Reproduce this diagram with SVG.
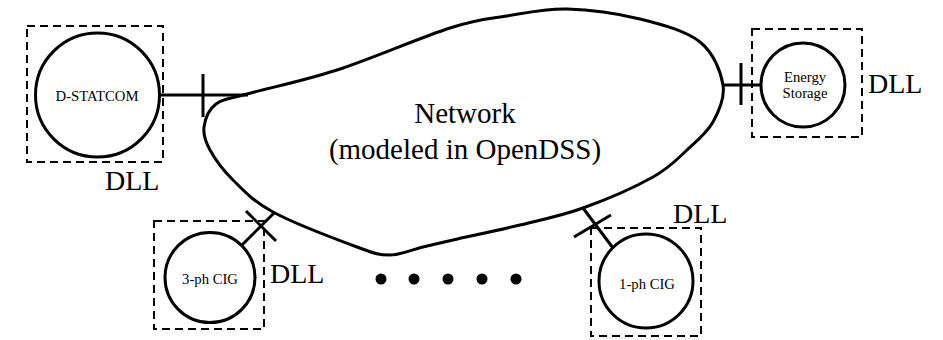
<svg xmlns="http://www.w3.org/2000/svg" width="943" height="340" viewBox="0 0 943 340">
<style>
.box{fill:none;stroke:#000;stroke-width:2;stroke-dasharray:8,5}
.cir{fill:#fff;stroke:#000;stroke-width:3}
.ln{fill:none;stroke:#000;stroke-width:3}
text{fill:#000}
.sm{font-size:14.7px;text-anchor:middle}
.dll{font-size:28px}
.big{font-size:29px;text-anchor:middle}
</style>
<rect width="943" height="340" fill="#fff"/>
<g id="connectors">
<line class="ln" x1="159" y1="95" x2="248" y2="95"/>
<line class="ln" x1="203" y1="74" x2="203" y2="117"/>
<line class="ln" x1="722" y1="85" x2="762" y2="85"/>
<line class="ln" x1="741" y1="63" x2="741" y2="105"/>
<line class="ln" x1="242" y1="245" x2="275" y2="212"/>
<line class="ln" x1="246" y1="211" x2="276" y2="241"/>
<line class="ln" x1="583" y1="208" x2="613" y2="248"/>
<line class="ln" x1="574" y1="237" x2="611" y2="215"/>
</g>
<g font-family="Liberation Serif, Times New Roman, serif">
<g id="network">
<path class="ln" d="M204,127 C205,119.3 208.8,109.5 216,104 C223.2,98.5 226.8,99.7 247,94 C267.2,88.3 303.2,81 337,70 C370.8,59 421.7,37 450,28 C478.3,19 487.5,19.2 507,16 C526.5,12.8 544.8,8.5 567,9 C589.2,9.5 617.8,13.5 640,19 C662.2,24.5 686.2,31 700,42 C713.8,53 720.8,71.7 723,85 C725.2,98.3 719,111.2 713,122 C707,132.8 697,140.8 687,150 C677,159.2 670.3,167.3 653,177 C635.7,186.7 605.2,200 583,208 C560.8,216 541.7,219.7 520,225 C498.3,230.3 469.2,236.3 453,240 C436.8,243.7 433.5,244.5 423,247 C412.5,249.5 401,255 390,255 C379,255 376.5,254.2 357,247 C337.5,239.8 293.7,223.2 273,212 C252.3,200.8 243.5,190.3 233,180 C222.5,169.7 214.8,158.8 210,150 C205.2,141.2 203,134.7 204,127 Z"/>
<text class="big" x="465" y="123">Network</text>
<text class="big" x="465" y="159">(modeled in OpenDSS)</text>
</g>
<g id="dstatcom">
<rect class="box" x="27" y="26" width="136" height="136"/>
<circle class="cir" cx="97.5" cy="95" r="62"/>
<text class="sm" x="97" y="100.5">D-STATCOM</text>
<text class="dll" x="105" y="190">DLL</text>
</g>
<g id="energy-storage">
<rect class="box" x="752" y="29" width="110" height="108"/>
<circle class="cir" cx="803" cy="85" r="42"/>
<text class="sm" x="805" y="82">Energy</text>
<text class="sm" x="805" y="98">Storage</text>
<text class="dll" x="868" y="93">DLL</text>
</g>
<g id="cig-3ph">
<rect class="box" x="154" y="221" width="110" height="108"/>
<circle class="cir" cx="210" cy="277.5" r="45"/>
<text class="sm" x="210" y="284">3-ph CIG</text>
<text class="dll" x="270" y="283">DLL</text>
</g>
<g id="cig-1ph">
<rect class="box" x="591" y="228" width="110" height="108"/>
<circle class="cir" cx="646" cy="281" r="47"/>
<text class="sm" x="647" y="289">1-ph CIG</text>
<text class="dll" x="673" y="223">DLL</text>
</g>
</g>
<g id="dots">
<circle cx="381" cy="279" r="5.5"/>
<circle cx="414" cy="279" r="5.5"/>
<circle cx="448" cy="279" r="5.5"/>
<circle cx="482" cy="279" r="5.5"/>
<circle cx="516" cy="279" r="5.5"/>
</g>
</svg>
